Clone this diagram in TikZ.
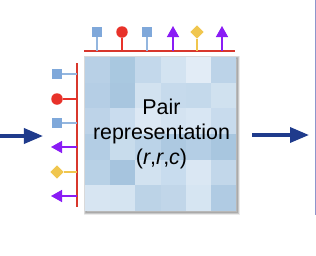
\documentclass[tikz,border=0pt]{standalone}
\usepackage{fontspec}
\setmainfont{Liberation Sans}
\usetikzlibrary{arrows.meta, positioning, calc, shapes.geometric}
\definecolor{mkblue}{HTML}{7FA8DA}
\definecolor{mkstem}{HTML}{93B6DF}
\definecolor{mkred}{HTML}{E8322A}
\definecolor{mkviolet}{HTML}{8A1CF5}
\definecolor{mkyellow}{HTML}{F0C64E}
\definecolor{barred}{HTML}{D8372C}
\definecolor{flownavy}{HTML}{1F3B8C}
\definecolor{edgeline}{HTML}{8D96CC}
\tikzset{%
    mkbox/.style={%
        rectangle, fill=mkblue, minimum size=10bp, inner sep=0
    },
    mkdot/.style={%
        circle, fill=mkred, minimum size=11.5bp, inner sep=0
    },
    mkgem/.style={%
        diamond, fill=mkyellow, minimum size=13.5bp, inner sep=0
    },
    stem/.style={%
        line width=1.4bp
    },
    mkarrow/.style={%
        stem, color=mkviolet, -{Triangle[width=12bp, length=11bp]}
    },
    bar/.style={%
        draw=barred, line width=2bp
    },
    flow/.style={%
        flownavy, line width=3.5bp, -{Triangle[width=15bp, length=19bp]}
    }
}

\begin{document}
\begin{tikzpicture}[
        x=1bp, y=-1bp,
        every node/.style={inner sep=0},
        pairtext/.style={font=\fontsize{21.5}{25}\selectfont, align=center},
    ]
        \useasboundingbox (0,0) rectangle (316,256);
        \def\cw{25.17}
        \def\ch{25.67}

        % soft shadow round the square
        \foreach \k in {1,...,5}
            \draw[black, opacity=0.08, line width=\k bp] (86,58) rectangle (237,212);

        % pair grid
        \foreach \row [count=\j] in {%
            {B8D0E6,A9C8E0,C3D8EB,D3E3F1,E2ECF6,BCD3E8},%
            {B5CEE5,A8C6DF,D2E2F0,C6DAEC,C4D9EB,D0E1EF},%
            {BDD3E8,C9DCEE,DCE8F4,D4E3F1,D8E6F3,C8DBED},%
            {B3CDE4,C8DCEC,BBD3E8,ADC9E1,B4CEE5,A8C6DF},%
            {B8D1E6,A6C4DE,D2E2F0,C8DCEE,DAE7F3,C2D7EA},%
            {D7E5F2,D5E4F1,BCD3E7,C1D6E9,D6E5F2,B0CBE3}} {
            \foreach \hex [count=\i] in \row {
                \definecolor{cell}{HTML}{\hex}
                \fill[cell] ({85+(\i-1)*\cw},{57+(\j-1)*\ch}) rectangle +(\cw,\ch);
            }
        }

        \node[pairtext] (pair) at (161.5,134) {Pair\\representation\\(\textit{r},\textit{r},\textit{c})};

        % bars
        \coordinate (topL) at (84,51);
        \coordinate (topR) at (235,51);
        \coordinate (sideT) at (77,63);
        \coordinate (sideB) at (77,207);
        \draw[bar] (topL) -- (topR);
        \draw[bar] (sideT) -- (sideB);

        % markers on top
        \node[mkbox] (t1) at (97,32) {};
        \node[mkdot] (t2) at (122,32) {};
        \node[mkbox] (t3) at (147,32) {};
        \node[mkgem] (t5) at (197,32) {};
        \coordinate (t4) at (173,26);
        \coordinate (t6) at (222,26);
        \draw[stem, mkstem] (t1) -- (t1 |- topL);
        \draw[stem, mkred] (t2) -- (t2 |- topL);
        \draw[stem, mkstem] (t3) -- (t3 |- topL);
        \draw[stem, mkyellow] (t5) -- (t5 |- topL);
        \draw[mkarrow] (t4 |- topL) -- (t4);
        \draw[mkarrow] (t6 |- topL) -- (t6);

        % markers on the side
        \node[mkbox] (s1) at (57,74) {};
        \node[mkdot] (s2) at (57,99) {};
        \node[mkbox] (s3) at (57,123) {};
        \node[mkgem] (s5) at (57,172) {};
        \coordinate (s4) at (51,147);
        \coordinate (s6) at (51,196);
        \draw[stem, mkstem] (s1) -- (s1 -| sideT);
        \draw[stem, mkred] (s2) -- (s2 -| sideT);
        \draw[stem, mkstem] (s3) -- (s3 -| sideT);
        \draw[stem, mkyellow] (s5) -- (s5 -| sideT);
        \draw[mkarrow] (s4 -| sideT) -- (s4);
        \draw[mkarrow] (s6 -| sideT) -- (s6);

        % flow arrows
        \coordinate (inA) at (0,136);
        \coordinate (inB) at (43,136);
        \coordinate (outA) at (252,135);
        \coordinate (outB) at (309,135);
        \draw[flow] (inA) -- (inB);
        \draw[flow] (outA) -- (outB);

        % edge of the next box
        \coordinate (edgeT) at (315,0);
        \coordinate (edgeB) at (315,215);
        \draw[edgeline, line width=1bp] (edgeT) -- (edgeB);
    \end{tikzpicture}
\end{document}
